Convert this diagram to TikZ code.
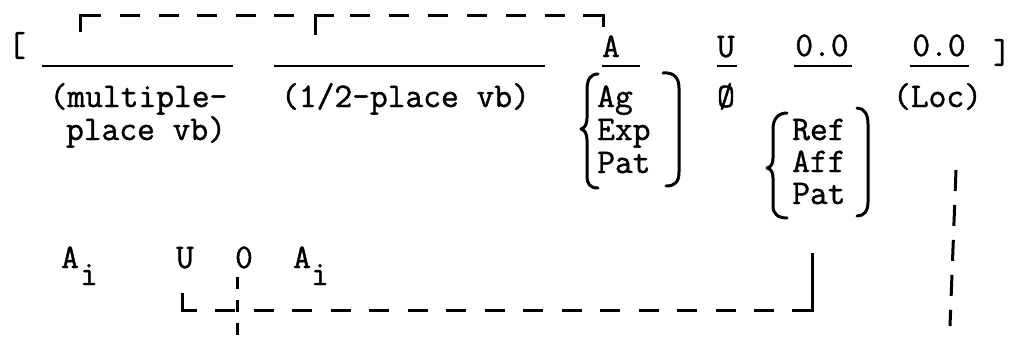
\documentclass[tikz,border=0pt]{standalone}
\usepackage{fontspec}
\setmonofont{Latin Modern Mono}[FakeBold=1.2]
\begin{document}
\begin{tikzpicture}[x=1pt,y=-1pt,
  txt/.style={font=\ttfamily\fontsize{34.5}{36}\selectfont, inner sep=0pt, anchor=base},
  txtl/.style={txt, anchor=base west},
  uline/.style={line width=2.5pt},
  solidl/.style={line width=3pt},
  dashl/.style={line width=3pt, dash pattern=on 20pt off 18.5pt},
  bracestyle/.style={line width=3pt, line cap=round, line join=round}
]
\useasboundingbox (0,0) rectangle (1014,340);

% outer brackets
\node[txt] (lbr) at (17,56) {[};
\node[txt] (rbr) at (1002,63) {]};

% row 1 blanks and labels
\draw[uline] (42,66) -- (233,66);
\draw[uline] (274,66) -- (545,66);
\node[txt] (A1) at (611,57) {A};
\draw[uline] (602,66) -- (640,66);
\node[txt] (U1) at (726,57) {U};
\draw[uline] (717,66) -- (737,66);
\node[txt] (z1) at (822,56) {0.0};
\draw[uline] (794,66) -- (852,66);
\node[txt] (z2) at (939,56) {0.0};
\draw[uline] (910,66) -- (969,66);

% row 2
\node[txt] (mp1) at (138.5,107) {(multiple-};
\node[txt] (mp2) at (146,140) {place vb)};
\node[txt] (hp) at (405.5,107) {(1/2-place vb)};
\node[txt] (null) at (726,107) {Ø};
\node[txt] (loc) at (937.5,107) {(Loc)};

\node[txtl] (ag) at (597,107) {Ag};
\node[txtl] (exp) at (597,140) {Exp};
\node[txtl] (pat1) at (597,173) {Pat};

\node[txtl] (ref) at (792,140) {Ref};
\node[txtl] (aff) at (792,172) {Aff};
\node[txtl] (pat2) at (792,204) {Pat};

% braces group 1
\draw[bracestyle] (598,74) .. controls (590,74) and (587,80) .. (587,90) -- (587,118)
  .. controls (587,124) and (585,128) .. (581,129)
  .. controls (585,130) and (587,134) .. (587,140) -- (587,176)
  .. controls (587,184) and (590,188) .. (598,188);
\draw[bracestyle] (663,73) .. controls (674,72) and (679,78) .. (679,88) -- (679,172)
  .. controls (679,182) and (675,186) .. (666,186);

% braces group 2
\draw[bracestyle] (787,113) .. controls (778,113) and (773,119) .. (773,129) -- (773,158)
  .. controls (773,164) and (771,167) .. (767,168)
  .. controls (771,169) and (773,172) .. (773,178) -- (773,206)
  .. controls (773,214) and (778,218) .. (787,218);
\draw[bracestyle] (857,108) .. controls (864,108) and (868,114) .. (868,124) -- (868,202)
  .. controls (868,211) and (864,216) .. (857,216);

% bottom row
\node[txt] (Ai1) at (70,268) {A};
\node[txt] (i1) at (89,285) {i};
\node[txt] (U2) at (185,268) {U};
\node[txt] (O2) at (244,268) {0};
\node[txt] (Ai2) at (302,268) {A};
\node[txt] (i2) at (320,285) {i};

% top connector
\coordinate (ta) at (80,32);
\coordinate (tac) at (80,15);
\coordinate (tae) at (101,15);
\coordinate (td1s) at (120,15);
\coordinate (td1e) at (296,15);
\coordinate (tb) at (315,35);
\coordinate (tbc) at (315,15);
\coordinate (tbe) at (334,15);
\coordinate (td2s) at (350,15);
\coordinate (td2e) at (568,15);
\coordinate (tcs) at (583,15);
\coordinate (tcc) at (603,15);
\coordinate (tc) at (603,27);
\draw[solidl] (ta) -- (tac) -- (tae);
\draw[dashl] (td1s) -- (td1e);
\draw[solidl] (tb) -- (tbc) -- (tbe);
\draw[dashl, dash pattern=on 20pt off 19pt] (td2s) -- (td2e);
\draw[solidl] (tcs) -- (tcc) -- (tc);

% bottom connector
\coordinate (ba) at (182,293);
\coordinate (bac) at (182,310);
\coordinate (bae) at (197,310);
\coordinate (bds) at (215,310);
\coordinate (bde) at (775,310);
\coordinate (bcs) at (792,310);
\coordinate (bcc) at (812,310);
\coordinate (bc) at (812,253);
\draw[solidl] (ba) -- (bac) -- (bae);
\draw[dashl] (bds) -- (bde);
\draw[solidl] (bcs) -- (bcc) -- (bc);

% vertical dashed lines
\coordinate (v1t) at (237,277);
\coordinate (v1b) at (237,338);
\draw[dashl, dash pattern=on 12pt off 11pt] (v1t) -- (v1b);
\coordinate (v2t) at (956,170);
\coordinate (v2b) at (950,326);
\draw[dashl, dash pattern=on 21pt off 14pt] (v2t) -- (v2b);
\end{tikzpicture}
\end{document}
